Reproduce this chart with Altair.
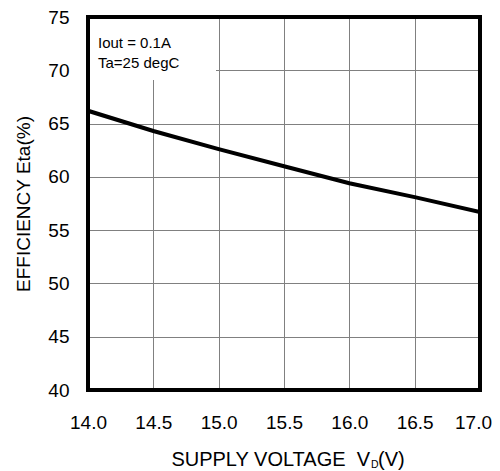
import altair as alt
import pandas as pd

voltage = [14.0, 14.5, 15.0, 15.5, 16.0, 16.5, 17.0]
efficiency = [66.2, 64.3, 62.6, 61.0, 59.4, 58.1, 56.7]
x_ticks = [14.0, 14.5, 15.0, 15.5, 16.0, 16.5, 17.0]
y_ticks = [40, 45, 50, 55, 60, 65, 70, 75]
note_lines = ["Iout = 0.1A", "Ta=25 degC"]

W, H = 392, 373
FONT = "Liberation Sans"

df = pd.DataFrame({"v": voltage, "eta": efficiency})
one = alt.Data(values=[{"k": 0}])

x_enc = alt.X("v:Q", scale=alt.Scale(domain=[14, 17], nice=False),
              axis=alt.Axis(values=x_ticks, format=".1f", title=None, grid=True,
                            gridColor="#808080", gridWidth=1, domain=False, ticks=False,
                            labelFontSize=19, labelFont=FONT, labelColor="black",
                            labelPadding=23, labelFlush=False,
                            labelOffset=alt.ExprRef(expr="datum.value >= 17 ? -7 : 0")))
y_enc = alt.Y("eta:Q", scale=alt.Scale(domain=[40, 75], nice=False, zero=False),
              axis=alt.Axis(values=y_ticks, title="EFFICIENCY Eta(%)", grid=True,
                            gridColor="#808080", gridWidth=1, domain=False, ticks=False,
                            labelFontSize=19, labelFont=FONT, labelColor="black",
                            labelPadding=19, labelFlush=False, titleFont=FONT, titleFontSize=19,
                            titleFontWeight="normal", titleColor="black", titlePadding=14))

line = alt.Chart(df).mark_line(color="black", strokeWidth=4, clip=True).encode(x=x_enc, y=y_enc)

bg = alt.Chart(one).mark_rect(fill="white").encode(
    x=alt.value(0), x2=alt.value(128), y=alt.value(0), y2=alt.value(63))

note1 = alt.Chart(one).mark_text(align="left", baseline="alphabetic", font=FONT, fontSize=15,
                                 color="black", text=note_lines[0]).encode(x=alt.value(10), y=alt.value(31))
note2 = alt.Chart(one).mark_text(align="left", baseline="alphabetic", font=FONT, fontSize=15,
                                 color="black", text=note_lines[1]).encode(x=alt.value(10), y=alt.value(51))

frame = alt.Chart(one).mark_rect(fillOpacity=0, stroke="black", strokeWidth=4).encode(
    x=alt.value(0), x2=alt.value(W), y=alt.value(0), y2=alt.value(H))

t1 = alt.Chart(one).mark_text(align="right", baseline="alphabetic", font=FONT, fontSize=20,
                              color="black", text="SUPPLY VOLTAGE \u00a0V").encode(x=alt.value(282), y=alt.value(448.5))
t2 = alt.Chart(one).mark_text(align="left", baseline="alphabetic", font=FONT, fontSize=10.5,
                              color="black", text="D").encode(x=alt.value(283), y=alt.value(450.5))
t3 = alt.Chart(one).mark_text(align="left", baseline="alphabetic", font=FONT, fontSize=20,
                              color="black", text="(V)").encode(x=alt.value(290), y=alt.value(448.5))

chart = alt.layer(bg, line, note1, note2, frame, t1, t2, t3).properties(
    width=W, height=H,
    autosize=alt.AutoSizeParams(type="none"),
    padding={"left": 80, "top": 9, "right": 12, "bottom": 80},
    background="white",
).configure_view(strokeOpacity=0)

chart.save("out.html", embed_options={"renderer": "svg", "actions": False})
